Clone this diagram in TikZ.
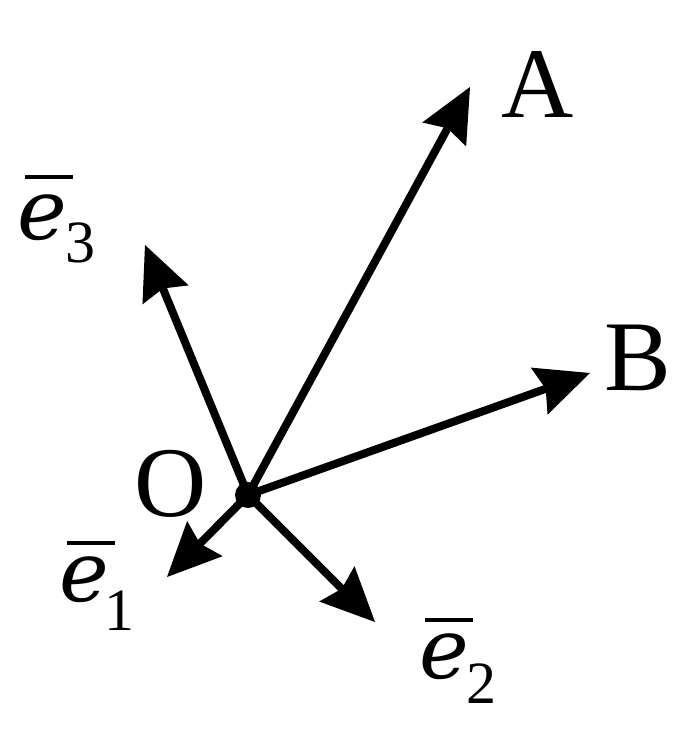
\documentclass[tikz,border=0pt]{standalone}
\usepackage{fontspec}
\setmainfont{Liberation Serif}
\newfontfamily\efont{DejaVu Serif}
\usetikzlibrary{arrows.meta}
\begin{document}
\begin{tikzpicture}[x=1pt,y=-1pt,
  vec/.style={line width=8pt,-{Stealth[length=54pt,width=50pt,inset=7pt,line width=0pt]}},
  bigl/.style={inner sep=0pt,anchor=base,font=\fontsize{100}{110}\selectfont},
  elab/.style={inner sep=0pt,anchor=base,font=\efont\itshape\fontsize{84}{94}\selectfont},
  sublab/.style={inner sep=0pt,anchor=base,font=\fontsize{60}{70}\selectfont},
  bar/.style={line width=4pt}]
\useasboundingbox (0,0) rectangle (682,734);
\node[circle,fill=black,inner sep=0pt,minimum size=26pt] (O) at (248,495) {};
\coordinate (tA) at (470,87);
\coordinate (tB) at (590,373);
\coordinate (t3) at (145,245);
\coordinate (t1) at (167,577);
\coordinate (t2) at (375,622);
\draw[vec] (O.center) -- (tA);
\draw[vec] (O.center) -- (tB);
\draw[vec] (O.center) -- (t3);
\draw[vec] (O.center) -- (t1);
\draw[vec] (O.center) -- (t2);
% labels
\node[bigl] (lA) at (538,117) {A};
\node[bigl] (lB) at (638,390) {B};
\node[bigl] (lO) at (171,516) {O};
% e3
\node[elab] (le3) at (42,239) {e};
\node[sublab] (ls3) at (80,262) {3};
\draw[bar] (25,177) -- (73,177);
% e1
\node[elab] (le1) at (84,601) {e};
\node[sublab] (ls1) at (119,630) {1};
\draw[bar] (67,543) -- (115,543);
% e2
\node[elab] (le2) at (444,678) {e};
\node[sublab] (ls2) at (481,703) {2};
\draw[bar] (425,620) -- (473,620);
\end{tikzpicture}
\end{document}
